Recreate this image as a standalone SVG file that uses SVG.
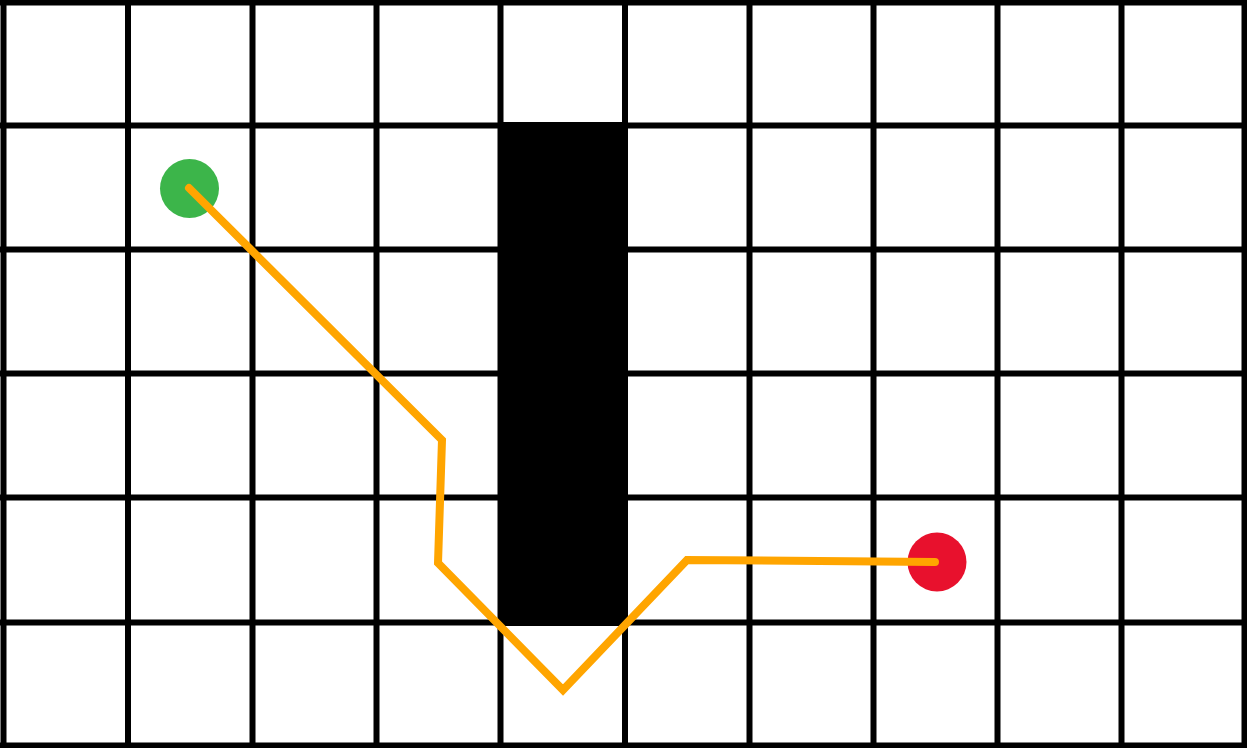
<svg xmlns="http://www.w3.org/2000/svg" width="1247" height="748" viewBox="0 0 1247 748">
  <style>
    .grid line { stroke: #000; stroke-width: 6; }
    .path { fill: none; stroke: #FFA500; stroke-width: 8; stroke-linejoin: miter; stroke-linecap: round; }
  </style>
  <rect x="0" y="0" width="1247" height="748" fill="#fff"/>
  <g id="grid" class="grid">
    <line x1="3.5" y1="0" x2="3.5" y2="748"/>
    <line x1="128" y1="0" x2="128" y2="748"/>
    <line x1="252.5" y1="0" x2="252.5" y2="748"/>
    <line x1="376.5" y1="0" x2="376.5" y2="748"/>
    <line x1="500.5" y1="0" x2="500.5" y2="748"/>
    <line x1="625" y1="0" x2="625" y2="748"/>
    <line x1="749.5" y1="0" x2="749.5" y2="748"/>
    <line x1="873.5" y1="0" x2="873.5" y2="748"/>
    <line x1="997.5" y1="0" x2="997.5" y2="748"/>
    <line x1="1121.5" y1="0" x2="1121.5" y2="748"/>
    <line x1="1244.5" y1="0" x2="1244.5" y2="748"/>
    <line x1="0" y1="2.5" x2="1247" y2="2.5"/>
    <line x1="0" y1="125.5" x2="1247" y2="125.5"/>
    <line x1="0" y1="249.5" x2="1247" y2="249.5"/>
    <line x1="0" y1="373.5" x2="1247" y2="373.5"/>
    <line x1="0" y1="497.5" x2="1247" y2="497.5"/>
    <line x1="0" y1="622.5" x2="1247" y2="622.5"/>
    <line x1="0" y1="745.5" x2="1247" y2="745.5"/>
  </g>
  <g id="obstacle">
    <rect x="498" y="122" width="130" height="504" fill="#000"/>
  </g>
  <g id="start">
    <circle cx="189.5" cy="188.5" r="29.5" fill="#3CB54A"/>
  </g>
  <g id="goal">
    <circle cx="937" cy="562" r="29.5" fill="#E8112D"/>
  </g>
  <g id="connectors">
    <polyline class="path" points="189,188 442,440 438,563 563,690 687,560 935,562"/>
  </g>
</svg>
